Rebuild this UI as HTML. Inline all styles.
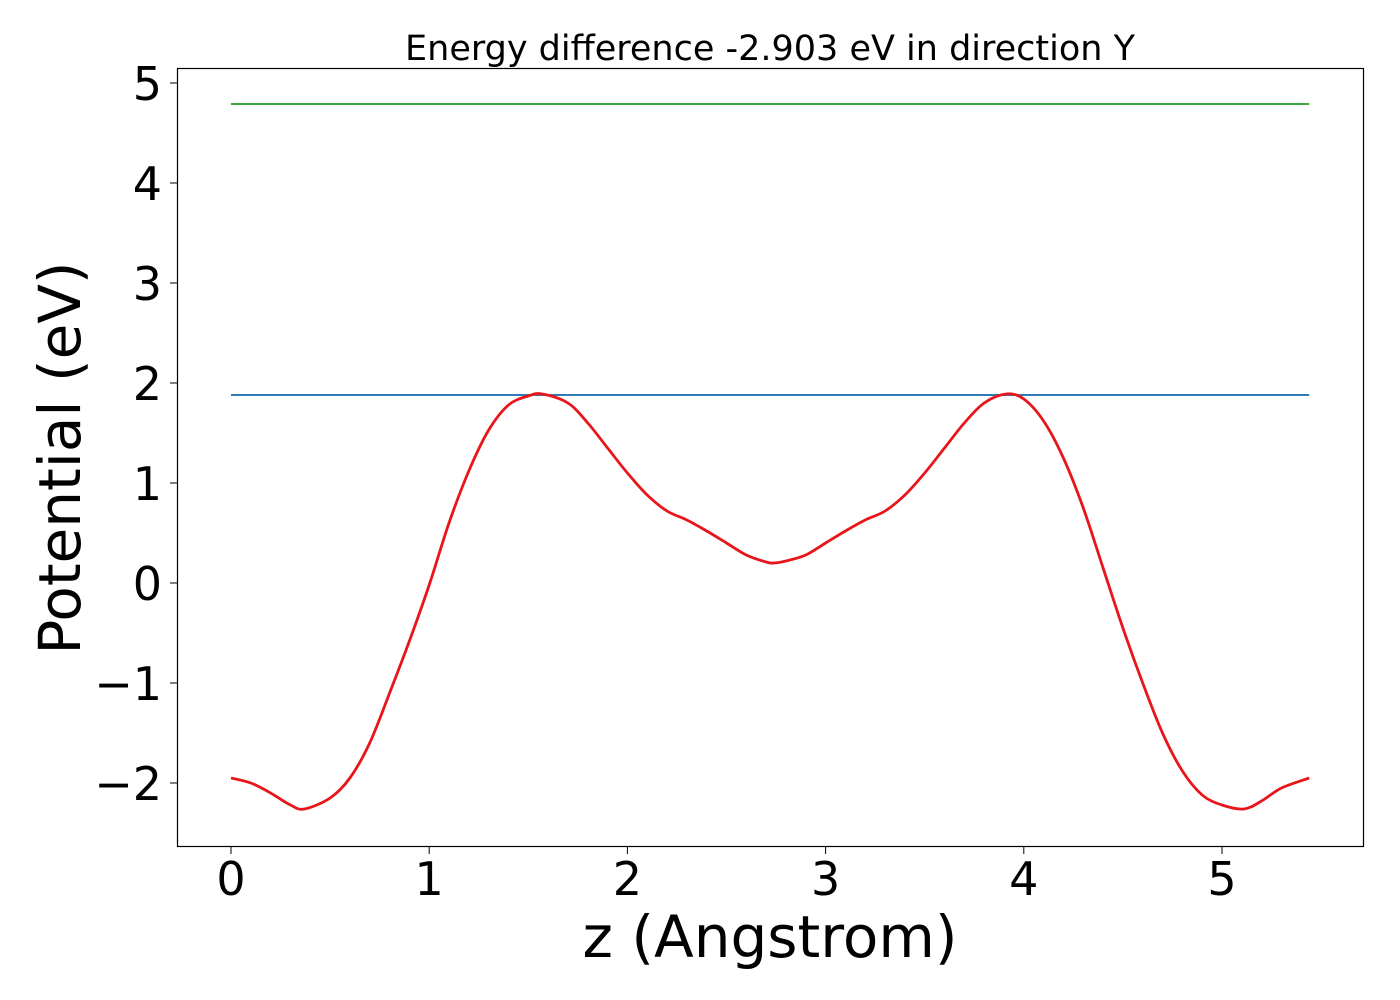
<!DOCTYPE html>
<html><head><meta charset="utf-8"><style>
body{margin:0;background:#fff}
svg{display:block;font-family:"DejaVu Sans","Liberation Sans",sans-serif}
</style></head><body>
<svg id="chart" width="1400" height="1000" viewBox="0 0 1400 1000">
<rect x="0" y="0" width="1400" height="1000" fill="#fff"/>
<text x="770" y="60" font-size="35" text-anchor="middle">Energy difference -2.903 eV in direction Y</text>
<g id="ticks"></g>
<g id="series"></g>
<rect x="177.5" y="68.5" width="1186" height="778" fill="none" stroke="#000" stroke-width="1.2"/>
<text x="770" y="957" font-size="58" text-anchor="middle">z (Angstrom)</text>
<text transform="translate(80,458) rotate(-90)" font-size="58" text-anchor="middle">Potential (eV)</text>
</svg>
<script>
const xTicks=[0,1,2,3,4,5];
const yTicks=[-2,-1,0,1,2,3,4,5];
const zValues=[0,0.1,0.2,0.3,0.37,0.5,0.6,0.7,0.8,0.9,1.0,1.1,1.2,1.3,1.4,1.5,1.57,1.7,1.8,1.9,2.0,2.1,2.2,2.3,2.4,2.5,2.6,2.7,2.74,2.8,2.9,3.0,3.1,3.2,3.3,3.4,3.5,3.6,3.7,3.8,3.91,4.0,4.1,4.2,4.3,4.4,4.5,4.6,4.7,4.8,4.9,5.0,5.11,5.2,5.3,5.44];
const potential=[-1.95,-2.0,-2.1,-2.22,-2.26,-2.15,-1.95,-1.6,-1.1,-0.58,-0.02,0.6,1.12,1.53,1.78,1.87,1.89,1.8,1.6,1.35,1.1,0.88,0.72,0.63,0.52,0.4,0.28,0.21,0.2,0.22,0.28,0.4,0.52,0.63,0.72,0.88,1.1,1.35,1.6,1.8,1.89,1.84,1.62,1.25,0.75,0.15,-0.45,-1.0,-1.5,-1.88,-2.12,-2.22,-2.26,-2.18,-2.05,-1.95];
const vacuumLevel=4.79;
const barrierLevel=1.88;
const zRange=[0,5.44];
const NS="http://www.w3.org/2000/svg";
const X=v=>231+v*198.2;
const Y=v=>583-v*100;
const tg=document.getElementById('ticks'), sg=document.getElementById('series');
xTicks.forEach(t=>{
 const l=document.createElementNS(NS,'line');
 
 
 l.setAttribute('x1',X(t));l.setAttribute('x2',X(t));l.setAttribute('y1',847);l.setAttribute('y2',854);l.setAttribute('stroke','#000');
 tg.appendChild(l);
 const s=document.createElementNS(NS,'text');
 
 
 s.setAttribute('x',X(t));s.setAttribute('y',895);s.setAttribute('font-size','46');s.setAttribute('text-anchor','middle');
 s.textContent=String(t);tg.appendChild(s);
});
yTicks.forEach(t=>{
 const l=document.createElementNS(NS,'line');
 
 
 l.setAttribute('x1',170);l.setAttribute('x2',177.5);l.setAttribute('y1',Y(t));l.setAttribute('y2',Y(t));l.setAttribute('stroke','#000');
 tg.appendChild(l);
 const s=document.createElementNS(NS,'text');
 
 
 s.setAttribute('x',162);s.setAttribute('y',Y(t)+17);s.setAttribute('font-size','46');s.setAttribute('text-anchor','end');
 s.textContent=(t<0?'\u2212':'')+Math.abs(t);tg.appendChild(s);
});
function hline(v,c,name){
 const l=document.createElementNS(NS,'line');
 
 
 l.setAttribute('x1',X(zRange[0]));l.setAttribute('x2',X(zRange[1]));l.setAttribute('y1',Y(v));l.setAttribute('y2',Y(v));
 l.setAttribute('stroke',c);l.setAttribute('stroke-width','2');sg.appendChild(l);
}
hline(vacuumLevel,'#3aa83a','vacuum-level-line');
hline(barrierLevel,'#2f7bb6','barrier-level-line');
const pts=zValues.map((z,i)=>[X(z),Y(potential[i])]);
let d='M'+pts[0][0].toFixed(1)+' '+pts[0][1].toFixed(1);
for(let i=0;i<pts.length-1;i++){
 const p0=pts[Math.max(0,i-1)],p1=pts[i],p2=pts[i+1],p3=pts[Math.min(pts.length-1,i+2)];
 const c1=[p1[0]+(p2[0]-p0[0])/6,p1[1]+(p2[1]-p0[1])/6];
 const c2=[p2[0]-(p3[0]-p1[0])/6,p2[1]-(p3[1]-p1[1])/6];
 d+=' C'+c1[0].toFixed(1)+' '+c1[1].toFixed(1)+' '+c2[0].toFixed(1)+' '+c2[1].toFixed(1)+' '+p2[0].toFixed(1)+' '+p2[1].toFixed(1);
}
const p=document.createElementNS(NS,'path');


p.setAttribute('d',d);
p.setAttribute('fill','none');p.setAttribute('stroke','#e8161b');p.setAttribute('stroke-width','2.8');p.setAttribute('stroke-linejoin','round');
sg.appendChild(p);
</script>
</body></html>
